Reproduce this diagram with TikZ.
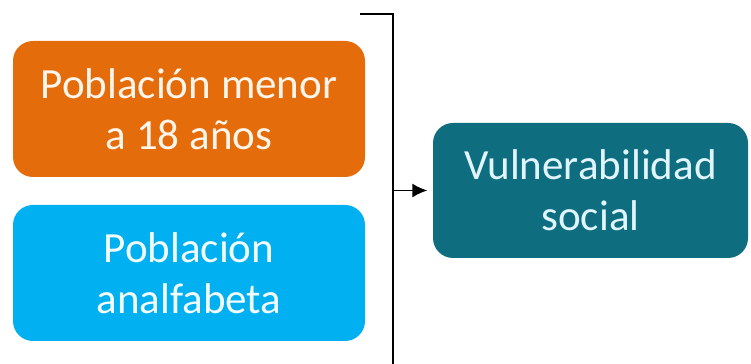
\documentclass[tikz,border=0pt]{standalone}
\usepackage{fontspec}
\setmainfont{Carlito}
\usepackage{xcolor}
\definecolor{vorange}{RGB}{228,108,10}
\definecolor{vblue}{RGB}{0,176,240}
\definecolor{vteal}{RGB}{14,110,128}
\usetikzlibrary{arrows.meta,positioning}

\begin{document}
\begin{tikzpicture}[every node/.style={font=\fontsize{24.5}{29}\selectfont, align=center},
  factor/.style={rounded corners=0.4cm, minimum width=7.04cm, minimum height=2.72cm, inner sep=0pt}]
\useasboundingbox (0,0) rectangle (15.02,7.28);
\node[factor, fill=vorange, text=orange!8] (menor) at (3.78,5.10) {Población menor\\a 18 años};
\node[factor, fill=vblue, text=cyan!5] (analf) at (3.78,1.82) {Población\\analfabeta};
\node[factor, fill=vteal, text=cyan!12, minimum width=6.30cm, minimum height=2.70cm] (vuln) at (11.81,3.47) {Vulnerabilidad\\social};
% bracket joining both factors
\coordinate (top) at (7.86,7.0);
\coordinate (bot) at (7.86,0);
\draw[line width=1.1pt] (7.2,7.0) -- (top) -- (bot);
\draw[line width=1.1pt, -{Latex[length=3mm,width=2.8mm]}, shorten >=3pt] (top |- vuln.west) -- (vuln.west);
\end{tikzpicture}
\end{document}
